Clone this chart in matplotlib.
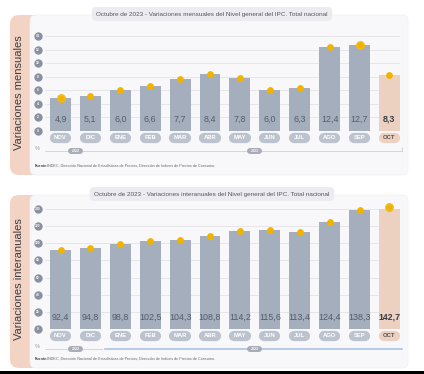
import matplotlib
matplotlib.use("Agg")
import matplotlib.pyplot as plt
import matplotlib.transforms as mtransforms
from matplotlib.patches import FancyBboxPatch

plt.rcParams['font.family'] = ['Liberation Sans', 'DejaVu Sans']

months = ['NOV', 'DIC', 'ENE', 'FEB', 'MAR', 'ABR', 'MAY', 'JUN', 'JUL', 'AGO', 'SEP', 'OCT']
mensual = [4.9, 5.1, 6.0, 6.6, 7.7, 8.4, 7.8, 6.0, 6.3, 12.4, 12.7, 8.3]
interanual = [92.4, 94.8, 98.8, 102.5, 104.3, 108.8, 114.2, 115.6, 113.4, 124.4, 138.3, 142.7]
ticks_mensual = [0, 2, 4, 6, 8, 10, 12, 14]
ticks_interanual = [0, 20, 40, 60, 80, 100, 120, 140]
years = ['2022', '2023']
year_pos = [0.5, 6.5]

title_m = 'Octubre de 2023 - Variaciones mensuales del Nivel general del IPC. Total nacional'
title_i = 'Octubre de 2023 - Variaciones interanuales del Nivel general del IPC. Total nacional'
fuente = 'INDEC, Dirección Nacional de Estadísticas de Precios, Dirección de Índices de Precios de Consumo.'

W, H = 424, 374
BAR = '#a4aebc'
LAST = '#ecd0c0'
DOT = '#f0b400'

fig = plt.figure(figsize=(W / 100, H / 100), dpi=100)
bg = fig.add_axes([0, 0, 1, 1], zorder=0)
bg.set_xlim(0, W)
bg.set_ylim(H, 0)
bg.axis('off')


def panel(y0, y1, y_top, y_zero, values, ymax, ticks, title, label, rings, blue):
    # tab + card
    bg.add_patch(FancyBboxPatch((10, y0), 40, y1 - y0, boxstyle='round,pad=0,rounding_size=9',
                                fc='#f3d4c4', ec='none'))
    bg.add_patch(FancyBboxPatch((30, y0), 378, y1 - y0, boxstyle='round,pad=0,rounding_size=6',
                                fc='#f8f8fa', ec='#f0f0f3', lw=0.5))
    bg.text(19, (y0 + y1) / 2 - 2, label, rotation=90, ha='center', va='center',
            fontsize=8, color='#3a3a40')
    bg.text(212, y0 - 1, title, ha='center', va='center', fontsize=4.6, color='#55555e',
            bbox=dict(boxstyle='round,pad=0.7', fc='#ececf0', ec='none'))
    bg.text(35, y1 - 9, 'Fuente:', fontsize=2.7, fontweight='bold', color='#444', va='center')
    bg.text(47, y1 - 9, fuente, fontsize=2.7, color='#666', va='center')

    ax = fig.add_axes([45 / W, 1 - y_zero / H, 355 / W, (y_zero - y_top) / H], zorder=1)
    ax.set_xlim((45 - 60.5) / 29.9, (400 - 60.5) / 29.9)
    ax.set_ylim(0, ymax)
    ax.axis('off')
    hpx = y_zero - y_top
    xs = range(len(values))

    for t in ticks:
        ax.axhline(t, color='#e3e3e8', lw=0.6, zorder=0)
    tb = mtransforms.blended_transform_factory(ax.transAxes, ax.transData)
    ax.plot([-7 / 355] * len(ticks), ticks, 'o', ms=5, color='#8b8fa0', transform=tb, clip_on=False)
    for t in ticks:
        ax.text(-7 / 355, t, str(t), transform=tb, ha='center', va='center',
                fontsize=2.3, color='white', fontweight='bold')

    colors = [BAR] * (len(values) - 1) + [LAST]
    ax.bar(xs, values, width=0.7, color=colors, zorder=2)

    for i in rings:
        ax.scatter(i, values[i], s=32, fc='#f7d873', ec=DOT, lw=0.6, zorder=3, clip_on=False)
    ax.scatter(xs, values, s=15, color=DOT, zorder=4, clip_on=False)

    xb = mtransforms.blended_transform_factory(ax.transData, ax.transAxes)
    for i, v in enumerate(values):
        last = i == len(values) - 1
        ax.text(i, 12 / hpx, f'{v:.1f}'.replace('.', ','), transform=xb, ha='center', va='center',
                fontsize=6.4, color='#383c48' if last else '#555c6c',
                fontweight='bold' if last else 'normal', zorder=5)
        ax.plot([i - 0.19, i + 0.19], [-6.5 / hpx] * 2, transform=xb, lw=7.4,
                solid_capstyle='round', color=LAST if last else '#bcc3ce', clip_on=False)
        ax.text(i, -6.5 / hpx, months[i], transform=xb, ha='center', va='center', fontsize=4.2,
                fontweight='bold', color='#5a5050' if last else 'white')

    # year line
    ly = -19.5 / hpx
    ax.text(-8 / 355, ly + 2 / hpx, '%', transform=ax.transAxes, ha='center', va='center',
            fontsize=4, color='#999')
    if blue:
        ax.plot([0, 0.16], [ly, ly], transform=ax.transAxes, color='#c8c8cc', lw=0.5, clip_on=False)
        ax.plot([0.17, 1.006], [ly, ly], transform=ax.transAxes, color='#aac4e6', lw=1.2,
                clip_on=False)
    else:
        ax.plot([0, 1.006], [ly, ly], transform=ax.transAxes, color='#c8c8cc', lw=0.5, clip_on=False)
        ax.plot([1.006, 1.006], [ly, ly + 4 / hpx], transform=ax.transAxes, color='#c8c8cc',
                lw=0.5, clip_on=False)
    for yr, p in zip(years, year_pos):
        ax.plot([p - 0.15, p + 0.15], [ly, ly], transform=xb, lw=4.3, solid_capstyle='round',
                color='#a9acb5', clip_on=False)
        ax.text(p, ly, yr, transform=xb, ha='center', va='center', fontsize=2.6,
                color='white', fontweight='bold')
    return ax


panel(15, 175, 36, 131, mensual, 14, ticks_mensual, title_m, 'Variaciones mensuales', [0, 10], False)
panel(195, 368, 209, 329, interanual, 140, ticks_interanual, title_i, 'Variaciones interanuales', [11], True)

bg.fill_between([0, W], 371, 374, color='black', lw=0)

fig.savefig('out.png', dpi=100, facecolor='white')
